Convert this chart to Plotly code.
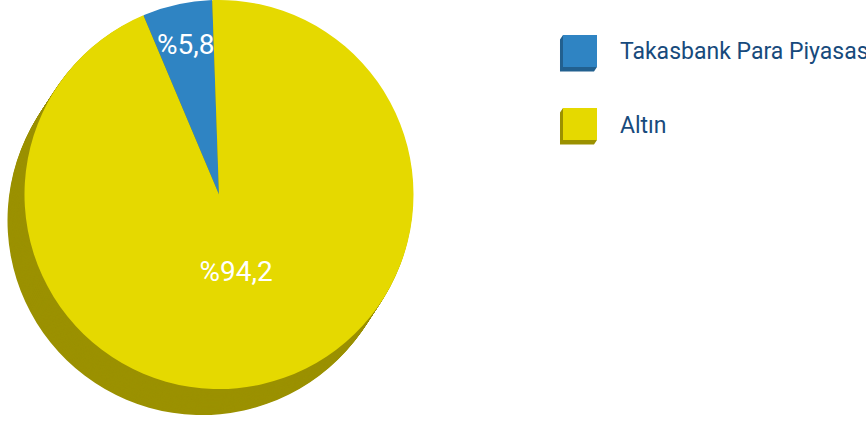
import plotly.graph_objects as go

# ---- data ----
labels = ["Takasbank Para Piyasası", "Altın"]
values = [5.8, 94.2]
text_labels = ["%5,8", "%94,2"]

# ---- style ----
colors = ["#2f84c3", "#e5d900"]
shadow_colors = ["#1f5c8a", "#9b9100"]
box_side_colors = ["#22608f", "#9b9100"]
legend_text_color = "#174a7c"
transparent = ["rgba(0,0,0,0)", "rgba(0,0,0,0)"]

W, H = 866, 425
cx, cy, r = 219, 194.5, 196.5   # pie centre / radius in px
sdx, sdy = -17, 26              # 3D depth offset in px
# first slice sits left of 12 o'clock, ending 2 degrees before it
rotation = -2 - values[0] / sum(values) * 360

def dom(ox=0.0, oy=0.0, rr=None):
    rx = r if rr is None else rr
    ry = 194.5 if rr is None else rr
    x0 = (cx - rx + ox) / W
    x1 = (cx + rx + ox) / W
    y0 = 1 - (cy + ry + oy) / H
    y1 = min(1.0, 1 - (cy - ry + oy) / H)
    return dict(x=[x0, x1], y=[y0, y1])

fig = go.Figure()

common = dict(labels=labels, values=values, sort=False,
              direction="counterclockwise", rotation=rotation,
              hoverinfo="skip", showlegend=False)

N = 30
for k in range(N, 0, -1):
    f = k / N
    fig.add_trace(go.Pie(
        domain=dom(sdx * f, sdy * f),
        marker=dict(colors=shadow_colors, line=dict(width=0)),
        textinfo="none", **common,
    ))

# main pie
fig.add_trace(go.Pie(
    domain=dom(),
    marker=dict(colors=colors, line=dict(width=0)),
    textinfo="none", **common,
))

# transparent concentric pies carrying the labels at their radial positions
label_radii = [182, 158]
for i, rr in enumerate(label_radii):
    txt = ["" for _ in text_labels]
    txt[i] = text_labels[i]
    fig.add_trace(go.Pie(
        domain=dom(rr=rr),
        marker=dict(colors=transparent, line=dict(width=0)),
        text=txt, textinfo="text", textposition="inside",
        insidetextorientation="horizontal",
        textfont=dict(family="Roboto", size=28, color="white"),
        **common,
    ))

# ---- custom 3D legend ----
def px(x, y):
    return x / W, 1 - y / H

shapes = []
annotations = []
for i, lab in enumerate(labels):
    top = 35 + 73 * i
    fx0, fx1, fy0, fy1 = 563, 597, top, top + 32
    d = (-3, 4.5)
    pts = [(fx0, fy0), (fx0 + d[0], fy0 + d[1]), (fx0 + d[0], fy1 + d[1]),
           (fx1 + d[0], fy1 + d[1]), (fx1, fy1), (fx0, fy1)]
    path = "M " + " L ".join("%f,%f" % px(*p) for p in pts) + " Z"
    shapes.append(dict(type="path", xref="paper", yref="paper", path=path,
                       fillcolor=box_side_colors[i], line=dict(width=0)))
    a0 = px(fx0, fy0)
    a1 = px(fx1, fy1)
    shapes.append(dict(type="rect", xref="paper", yref="paper",
                       x0=a0[0], x1=a1[0], y0=a1[1], y1=a0[1],
                       fillcolor=colors[i], line=dict(width=0)))
    tx, ty = px(618, top + 17)
    annotations.append(dict(text=lab, x=tx, y=ty, xref="paper", yref="paper",
                            xanchor="left", yanchor="middle", showarrow=False,
                            font=dict(family="Roboto", size=23, color=legend_text_color)))

fig.update_layout(
    width=W, height=H,
    margin=dict(l=0, r=0, t=0, b=0),
    paper_bgcolor="white", plot_bgcolor="white",
    shapes=shapes, annotations=annotations,
    uniformtext=dict(minsize=28, mode="show"),
)

fig.write_html("out.html", config={"displayModeBar": False},
               post_script="document.body.style.margin='0';document.body.style.overflow='hidden';")
